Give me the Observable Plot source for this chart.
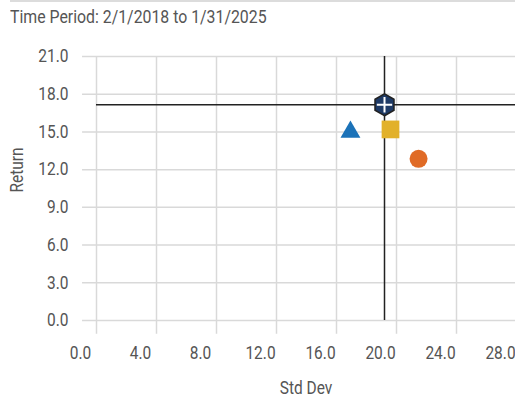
<!DOCTYPE html>
<html>
<head>
<meta charset="utf-8">
<script src="https://cdn.jsdelivr.net/npm/d3@7"></script>
<script src="https://cdn.jsdelivr.net/npm/@observablehq/plot@0.6"></script>
<style>
  html, body { margin: 0; padding: 0; background: #fff; }
  #title {
    position: relative;
    height: 34px;
    box-sizing: border-box;
    margin-left: 10px;
    border-top: 2px solid #dcdcdc;
    font-family: Roboto, sans-serif;
    font-size: 18px;
    color: #555;
    line-height: 30px;
    white-space: nowrap;
  }
  #title span { display: inline-block; transform: scaleX(0.88); transform-origin: left center; }
  #chart svg { display: block; }
</style>
</head>
<body>
<div id="title"><span>Time Period: 2/1/2018 to 1/31/2025</span></div>
<div id="chart"></div>
<script>
// Tick values
const xTicks = [0, 4, 8, 12, 16, 20, 24, 28];
const yTicks = [0, 3, 6, 9, 12, 15, 18, 21];

// Series (Std Dev, Return)
const names   = ["Investment", "Category", "Peer", "Benchmark"];
const stdDev  = [16.93, 19.6, 21.47, 19.2];
const returns = [15.0, 15.2, 12.86, 17.16];
const symbols = ["triangle", "square", "circle", "hexagon"];
const colors  = ["#1b72b8", "#e2b12a", "#e06b26", "#1e3a66"];
const sizes   = [7.4, 10, 9, 9.5];

const points = names.map((n, i) => ({name: n, x: stdDev[i], y: returns[i], symbol: symbols[i], color: colors[i], size: sizes[i]}));
const others = points.slice(0, 3);
const bench = points.slice(3);

const fmt = d3.format(".1f");

const chart = Plot.plot({
  width: 515,
  height: 372,
  marginLeft: 96,
  marginRight: 0,
  marginTop: 22,
  marginBottom: 86,
  x: {domain: [0, 28], range: [96, 516]},
  y: {domain: [0, 21], range: [286, 22]},
  r: {type: "identity"},
  symbol: {type: "identity"},
  style: {fontFamily: "Roboto, sans-serif", fontSize: "18px", color: "#555", background: "#fff"},
  marks: [
    Plot.ruleY(yTicks, {y: d => d, x1: -0.93, x2: 28, stroke: "#d9d9d9", strokeWidth: 1.5, strokeOpacity: 1}),
    Plot.ruleX(xTicks, {x: d => d, y1: -1.1, y2: 21, stroke: "#d9d9d9", strokeWidth: 1.5, strokeOpacity: 1}),
    Plot.axisY(yTicks, {tickFormat: fmt, tickSize: 0, tickPadding: 28, label: null, fill: "#555"}),
    Plot.axisX(xTicks, {tickFormat: fmt, tickSize: 0, tickPadding: 26, dx: -16, label: null, fill: "#555"}),
    Plot.text(["Std Dev"], {frameAnchor: "bottom", dy: 68, lineAnchor: "middle", fill: "#555"}),
    Plot.text(["Return"], {frameAnchor: "left", rotate: -90, dx: -79, dy: 4, lineAnchor: "middle", fill: "#555"}),
    Plot.ruleY(bench, {y: "y", x1: 0, x2: 28, stroke: "#222", strokeWidth: 1.5}),
    Plot.ruleX(bench, {x: "x", y1: 0, y2: 21, stroke: "#222", strokeWidth: 1.5}),
    Plot.dot(others, {x: "x", y: "y", symbol: "symbol", fill: "color", r: "size"}),
    Plot.dot(bench, {x: "x", y: "y", symbol: "symbol", fill: "color", stroke: "#222", strokeWidth: 1.5, r: "size"}),
    Plot.dot(bench, {x: "x", y: "y", symbol: "plus", stroke: "#fff", strokeWidth: 2, r: 5})
  ]
});
// Condense the text horizontally (the original uses a condensed face)
chart.querySelectorAll("text").forEach(t => {
  const tr = t.getAttribute("transform");
  if (tr) {
    t.setAttribute("transform", tr + " scale(0.86,1)");
  } else {
    const x = +(t.getAttribute("x") || 0), y = +(t.getAttribute("y") || 0);
    t.setAttribute("transform", `translate(${x},${y}) scale(0.86,1) translate(${-x},${-y})`);
  }
});
document.getElementById("chart").appendChild(chart);
</script>
</body>
</html>
